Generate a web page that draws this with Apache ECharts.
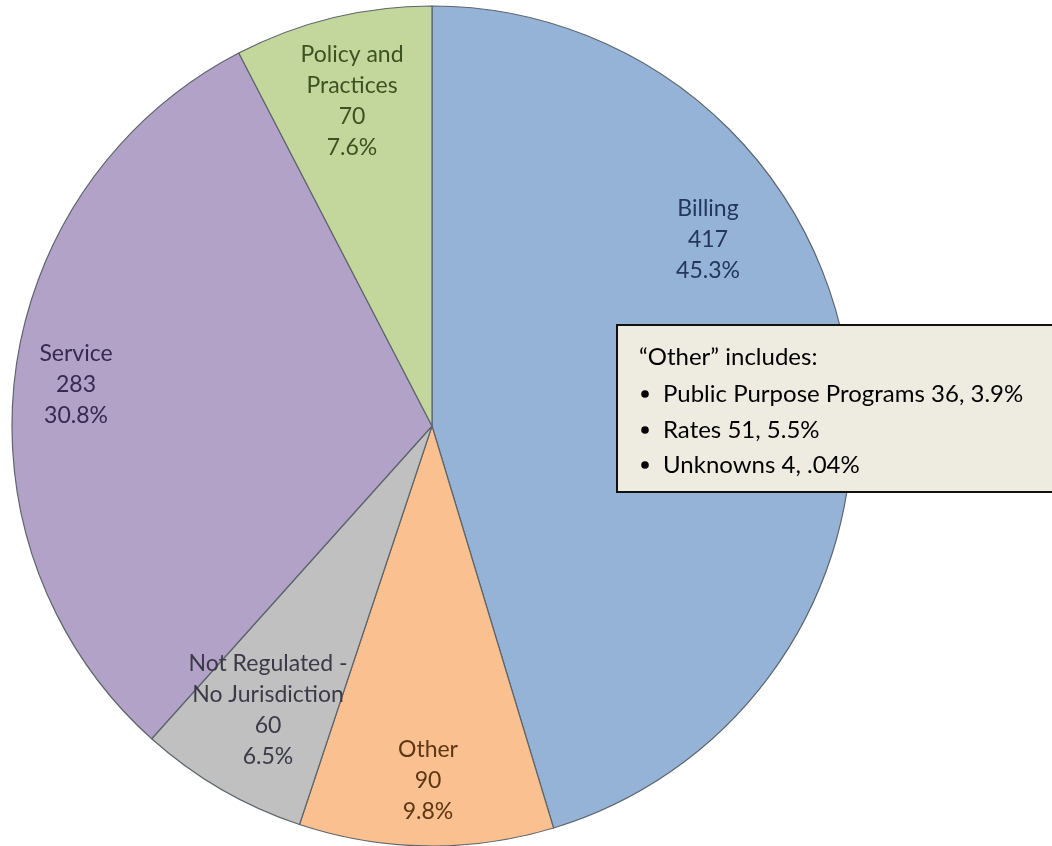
<!DOCTYPE html>
<html>
<head>
<meta charset="utf-8">
<script src="https://cdn.jsdelivr.net/npm/echarts@6/dist/echarts.min.js"></script>
<style>
html,body{margin:0;padding:0;background:#fff;}
#chart{width:1052px;height:846px;}
</style>
</head>
<body>
<div id="chart"></div>
<script>
// Data
var categories = ['Billing', 'Other', 'Not Regulated -\nNo Jurisdiction', 'Service', 'Policy and\nPractices'];
var counts = [417, 90, 60, 283, 70];
var noteTitle = '\u201cOther\u201d includes:';
var noteItems = ['Public Purpose Programs 36, 3.9%', 'Rates 51, 5.5%', 'Unknowns 4, .04%'];

// Styles
var sliceColors = ['#95b3d7', '#fac090', '#c0c0c0', '#b3a2c7', '#c3d69b'];
var labelColors = ['#23375a', '#5b3714', '#3a3a48', '#342a52', '#3c5221'];
var labelPos = [[708, 240], [428, 781], [268, 710], [76, 385], [352, 101]];

var chart = echarts.init(document.getElementById('chart'), null, {renderer: 'canvas'});

var pieData = categories.map(function (c, i) {
  return {
    name: c,
    value: counts[i],
    itemStyle: {color: sliceColors[i]},
    label: {color: labelColors[i]}
  };
});

var noteFont = 'Lato';
var noteGraphic = [
  {
    type: 'rect',
    shape: {x: 617, y: 325, width: 450, height: 167},
    style: {fill: '#eeebe0', stroke: '#111', lineWidth: 2},
    z: 10
  },
  {
    type: 'text',
    x: 639, y: 357,
    style: {text: noteTitle, font: '24px ' + noteFont, fill: '#000', verticalAlign: 'middle'},
    z: 11
  }
];
var rowY = [394, 430, 465];
noteItems.forEach(function (t, i) {
  noteGraphic.push({
    type: 'circle',
    shape: {cx: 645, cy: rowY[i], r: 3.8},
    style: {fill: '#000'},
    z: 11
  });
  noteGraphic.push({
    type: 'text',
    x: 663, y: rowY[i],
    style: {text: t, font: '24px ' + noteFont, fill: '#000', verticalAlign: 'middle'},
    z: 11
  });
});

chart.setOption({
  animation: false,
  backgroundColor: '#ffffff',
  series: [{
    type: 'pie',
    center: [432, 426],
    radius: 420,
    startAngle: 90,
    clockwise: true,
    percentPrecision: 1,
    avoidLabelOverlap: false,
    itemStyle: {borderColor: '#5d656c', borderWidth: 1.2},
    label: {
      show: true,
      position: 'inside',
      formatter: '{b}\n{c}\n{d}%',
      fontFamily: 'Lato',
      fontSize: 23,
      lineHeight: 31,
      align: 'center'
    },
    labelLine: {show: false},
    labelLayout: function (p) {
      var pos = labelPos[p.dataIndex];
      return {x: pos[0], y: pos[1], align: 'center', verticalAlign: 'middle'};
    },
    emphasis: {disabled: true},
    data: pieData
  }],
  graphic: noteGraphic
});
</script>
</body>
</html>
